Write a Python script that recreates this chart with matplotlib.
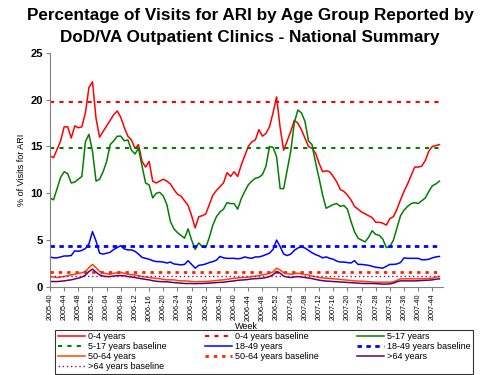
import matplotlib
matplotlib.use("Agg")
import matplotlib.pyplot as plt
import numpy as np

plt.rcParams['font.family'] = ['Liberation Sans', 'DejaVu Sans']

# week labels 2005-40 .. 2007-46
weeks = ([f"2005-{w:02d}" for w in range(40, 53)] +
         [f"2006-{w:02d}" for w in range(1, 53)] +
         [f"2007-{w:02d}" for w in range(1, 47)])

age_0_4 = [14.0, 13.8, 14.7, 15.6, 17.1, 17.1, 15.9, 17.2, 17.0, 17.1,
           18.6, 21.3, 21.9, 18.0, 16.0, 16.6, 17.2, 17.8, 18.4, 18.8,
           18.1, 17.0, 16.1, 15.7, 14.8, 15.2, 13.4, 12.8, 13.4, 11.3,
           11.1, 11.3, 11.5, 11.3, 11.0, 10.4, 9.9, 9.7, 9.2, 8.7,
           7.6, 6.3, 7.5, 7.6, 7.8, 8.8, 9.8, 10.3, 10.7, 11.1,
           12.2, 11.8, 12.3, 11.8, 13.0, 14.0, 15.0, 15.5, 15.7, 16.8,
           16.1, 16.4, 17.1, 18.6, 20.3, 17.0, 14.6, 15.6, 16.6, 17.8,
           17.5, 16.8, 15.9, 15.0, 14.8, 14.3, 13.2, 12.3, 12.4, 12.3,
           11.8, 11.2, 10.4, 10.2, 9.8, 9.3, 8.6, 8.3, 8.0, 7.8,
           7.6, 7.4, 6.9, 6.9, 6.8, 6.6, 7.3, 7.5, 8.3, 9.3,
           10.2, 11.0, 11.9, 12.8, 12.8, 12.9, 13.5, 14.5, 15.0, 15.1,
           15.2]
age_5_17 = [9.5, 9.3, 10.5, 11.7, 12.3, 12.1, 11.1, 11.2, 11.5, 11.8,
            15.5, 16.3, 14.5, 11.3, 11.5, 12.3, 13.4, 15.2, 15.6, 16.1,
            16.1, 15.6, 15.7, 14.6, 14.2, 14.8, 12.9, 11.1, 10.9, 9.5,
            10.0, 10.1, 9.7, 8.8, 7.0, 6.2, 5.8, 5.5, 5.2, 6.2,
            5.0, 4.0, 4.7, 4.3, 4.2, 5.3, 6.6, 7.5, 8.0, 8.3,
            9.0, 8.9, 8.9, 8.3, 9.4, 10.2, 10.9, 11.3, 11.6, 11.7,
            12.0, 12.9, 15.0, 14.9, 13.9, 10.5, 10.5, 12.5, 14.5, 17.5,
            18.9, 18.6, 17.7, 15.6, 15.2, 13.3, 11.6, 9.8, 8.4, 8.6,
            8.8, 8.9, 8.6, 8.7, 8.3, 7.0, 5.9, 5.2, 5.0, 4.8,
            5.3, 6.0, 5.6, 5.5, 5.1, 4.2, 4.3, 5.0, 6.3, 7.6,
            8.2, 8.6, 8.9, 9.0, 8.9, 9.2, 9.5, 10.2, 10.8, 11.0,
            11.3]
age_18_49 = [3.2, 3.1, 3.1, 3.2, 3.3, 3.3, 3.35, 3.85, 3.8, 3.9,
             4.1, 4.6, 5.9, 4.9, 3.6, 3.5, 3.6, 3.7, 4.0, 4.2,
             4.4, 4.05, 3.95, 3.95, 3.8, 3.5, 3.15, 3.05, 2.95, 2.8,
             2.7, 2.7, 2.65, 2.55, 2.65, 2.45, 2.4, 2.35, 2.4, 2.8,
             2.4, 2.0, 2.3, 2.35, 2.45, 2.6, 2.7, 2.85, 3.25, 3.1,
             3.05, 3.05, 3.05, 3.0, 3.05, 3.2, 3.1, 3.05, 3.2, 3.2,
             3.3, 3.45, 3.6, 4.0, 5.0, 4.3, 3.5, 3.35, 3.5, 3.9,
             4.15, 4.3, 4.15, 3.9, 3.65, 3.45, 3.3, 3.1, 3.2, 3.05,
             2.95, 2.75, 2.65, 2.65, 2.6, 2.55, 2.8, 2.4, 2.4, 2.35,
             2.3, 2.2, 2.1, 2.05, 2.0, 2.2, 2.4, 2.4, 2.45, 2.6,
             3.1, 3.05, 3.05, 3.05, 3.05, 2.9, 2.9, 2.95, 3.1, 3.2,
             3.25]
age_50_64 = [1.1, 1.05, 1.0, 1.05, 1.1, 1.2, 1.28, 1.35, 1.45, 1.5,
             1.65, 2.05, 2.4, 2.05, 1.65, 1.5, 1.4, 1.35, 1.45, 1.5,
             1.55, 1.45, 1.35, 1.3, 1.28, 1.2, 1.1, 1.05, 1.0, 0.95,
             0.9, 0.88, 0.8, 0.75, 0.75, 0.75, 0.68, 0.65, 0.64, 0.62,
             0.58, 0.55, 0.57, 0.57, 0.58, 0.6, 0.64, 0.68, 0.72, 0.75,
             0.8, 0.87, 0.93, 0.95, 1.0, 1.0, 1.05, 1.1, 1.15, 1.2,
             1.28, 1.35, 1.45, 1.6, 2.0, 1.8, 1.5, 1.4, 1.35, 1.4,
             1.46, 1.4, 1.3, 1.28, 1.15, 1.1, 1.0, 0.95, 0.93, 0.9,
             0.86, 0.84, 0.8, 0.75, 0.72, 0.68, 0.64, 0.62, 0.6, 0.57,
             0.55, 0.52, 0.5, 0.5, 0.5, 0.5, 0.5, 0.55, 0.7, 0.86,
             0.86, 0.86, 0.86, 0.86, 0.86, 0.86, 0.88, 0.9, 0.93, 1.05,
             1.1]
age_65 = [0.57, 0.57, 0.57, 0.6, 0.64, 0.7, 0.75, 0.85, 0.93, 1.05,
          1.25, 1.64, 1.9, 1.57, 1.28, 1.15, 1.1, 1.1, 1.15, 1.2,
          1.21, 1.18, 1.1, 1.05, 1.0, 0.92, 0.86, 0.8, 0.75, 0.66,
          0.6, 0.57, 0.55, 0.55, 0.5, 0.46, 0.43, 0.4, 0.36, 0.36,
          0.36, 0.34, 0.36, 0.36, 0.38, 0.4, 0.43, 0.46, 0.48, 0.5,
          0.55, 0.6, 0.64, 0.7, 0.73, 0.75, 0.8, 0.85, 0.88, 0.9,
          0.93, 1.0, 1.1, 1.3, 1.64, 1.46, 1.15, 1.05, 1.0, 1.05,
          1.1, 1.05, 1.0, 0.95, 0.88, 0.8, 0.72, 0.66, 0.62, 0.6,
          0.57, 0.55, 0.52, 0.5, 0.47, 0.45, 0.43, 0.4, 0.37, 0.36,
          0.36, 0.36, 0.35, 0.32, 0.29, 0.3, 0.32, 0.4, 0.55, 0.64,
          0.64, 0.64, 0.64, 0.64, 0.66, 0.68, 0.7, 0.72, 0.75, 0.82,
          0.86]

base_0_4 = 19.8
base_5_17 = 14.8
base_18_49 = 4.4
base_50_64 = 1.6
base_65 = 1.15

x = np.arange(len(weeks))
n = len(weeks)

fig = plt.figure(figsize=(5, 3.75), dpi=100)
ax = fig.add_axes([0.10, 0.235, 0.786, 0.624])

h = []
h += ax.plot(x, age_0_4, color="#FF0000", lw=1.1, label="0-4 years")
h += ax.plot(x, [base_0_4] * n, color="#FF0000", lw=1.5, dashes=(2, 2.5), label="0-4 years baseline")
h += ax.plot(x, age_5_17, color="#007F00", lw=1.1, label="5-17 years")
h += ax.plot(x, [base_5_17] * n, color="#007F00", lw=1.5, dashes=(2, 2.5), label="5-17 years baseline")
h += ax.plot(x, age_18_49, color="#0000FF", lw=1.1, label="18-49 years")
h += ax.plot(x, [base_18_49] * n, color="#0000FF", lw=2, dashes=(1.6, 1.6), label="18-49 years baseline")
h += ax.plot(x, age_50_64, color="#FF4400", lw=1.1, label="50-64 years")
h += ax.plot(x, [base_50_64] * n, color="#FF2200", lw=2, dashes=(1.2, 1.8), label="50-64 years baseline")
h += ax.plot(x, age_65, color="#660066", lw=1.1, label=">64 years")
h += ax.plot(x, [base_65] * n, color="#990099", lw=1, dashes=(1, 2), label=">64 years baseline")

ax.set_xlim(0, 111)
ax.set_ylim(0, 25)
ax.set_yticks([0, 5, 10, 15, 20, 25])
for lab in ax.get_yticklabels():
    lab.set_fontweight("bold")
ax.tick_params(axis="y", labelsize=8, length=3, color="#808080", pad=2)
ax.set_xticks(x[::4])
ax.set_xticklabels(weeks[::4], rotation=90, fontsize=5.2)
ax.tick_params(axis="x", length=3, color="#808080", pad=2)
for s in ["top", "right"]:
    ax.spines[s].set_visible(False)
for s in ["left", "bottom"]:
    ax.spines[s].set_color("#808080")
ax.set_ylabel("% of Visits for ARI", fontsize=6.5, labelpad=3)
ax.set_xlabel("Week", fontsize=6.5, labelpad=1)

fig.suptitle("Percentage of Visits for ARI by Age Group Reported by\nDoD/VA Outpatient Clinics - National Summary",
             fontsize=12.3, fontweight="bold", y=0.978, linespacing=1.6)

order = [0, 3, 6, 9, 1, 4, 7, 2, 5, 8]
leg = fig.legend([h[i] for i in order], [h[i].get_label() for i in order],
                 ncol=3, loc="center", bbox_to_anchor=(0.11, 0.01, 0.836, 0.104),
                 mode="expand", fontsize=6.5, frameon=True, fancybox=False,
                 edgecolor="black", handlelength=3, handletextpad=0.3,
                 columnspacing=1.0, labelspacing=0.1, borderpad=0.3, borderaxespad=0)
leg.get_frame().set_linewidth(0.8)

fig.savefig("out.png", dpi=100)
